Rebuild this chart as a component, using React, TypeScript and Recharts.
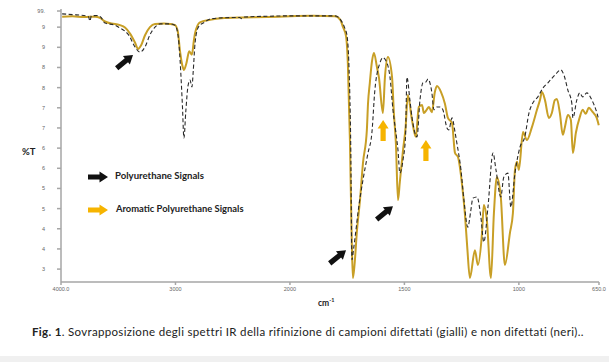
import React from 'react'
import { LineChart, Line, XAxis, YAxis, ReferenceDot } from 'recharts'

// IR spectra: wavenumber (cm-1) and %T
const goldWn = [
  3990, 3900, 3800, 3700, 3660, 3616, 3560, 3528, 3485, 3441, 3397, 3354, 3327, 3300, 3266, 3223, 3179, 3100,
  3048, 3004, 2980, 2960, 2940, 2926, 2905, 2880, 2866, 2856, 2840, 2829, 2786, 2698, 2600, 2400, 2200, 2000,
  1900, 1803, 1780, 1768, 1755, 1747, 1738, 1730, 1725, 1718, 1707, 1694, 1681, 1664, 1659, 1651, 1642, 1633,
  1620, 1611, 1594, 1585, 1572, 1554, 1546, 1537, 1528, 1520, 1506, 1495, 1485, 1467, 1450, 1437, 1423, 1415,
  1403, 1393, 1380, 1367, 1358, 1340, 1323, 1310, 1292, 1279, 1266, 1249, 1236, 1225, 1214, 1192, 1179, 1161,
  1153, 1140, 1122, 1109, 1096, 1079, 1061, 1039, 1026, 1017, 1008, 1000, 982, 965, 943, 921, 908, 899, 886,
  869, 856, 843, 834, 821, 808, 799, 786, 773, 764, 751, 734, 721, 708, 695, 677, 660, 651
]
const goldT = [
  97.6, 97.7, 97.5, 97.6, 97.3, 96.4, 95.9, 95.8, 95.5, 94.9, 93.4, 91.2, 89.6, 90.5, 93.0, 95.0, 95.8, 95.9,
  95.8, 95.5, 94.0, 89.0, 85.5, 84.4, 86.0, 89.0, 88.5, 88.2, 91.5, 93.5, 96.2, 96.8, 97.2, 97.4, 97.5, 97.7,
  97.8, 97.7, 96.8, 95.0, 92.8, 86.0, 67.0, 42.0, 32.8, 36.0, 44.7, 52.1, 61.3, 69.5, 76.0, 81.2, 86.4, 88.6,
  85.1, 82.4, 73.7, 82.6, 87.6, 82.6, 73.7, 66.0, 52.1, 56.6, 64.5, 70.0, 78.2, 72.0, 67.8, 75.2, 75.7, 73.7,
  74.5, 75.2, 73.9, 78.9, 80.4, 78.9, 76.0, 72.5, 71.2, 63.8, 62.8, 56.4, 48.9, 40.0, 32.8, 39.7, 36.0, 44.0,
  50.9, 47.2, 32.8, 48.9, 57.8, 52.9, 36.0, 44.0, 48.9, 59.6, 61.6, 59.6, 69.0, 67.0, 70.2, 74.5, 76.9, 78.9, 76.9,
  72.5, 73.7, 76.9, 77.2, 73.7, 68.3, 70.2, 73.2, 72.0, 63.8, 68.8, 72.7, 74.5, 73.5, 75.0, 73.9, 72.5, 70.7
]

const blackWn = [
  3990, 3900, 3800, 3760, 3747, 3735, 3680, 3650, 3616, 3528, 3485, 3441, 3410, 3354, 3310, 3266, 3223, 3179,
  3135, 3050, 3004, 2978, 2960, 2940, 2926, 2910, 2890, 2873, 2856, 2845, 2829, 2800, 2742, 2698, 2600, 2440,
  2420, 2400, 2200, 2000, 1900, 1803, 1775, 1762, 1751, 1742, 1735, 1729, 1722, 1712, 1703, 1681, 1659, 1642,
  1629, 1607, 1594, 1576, 1563, 1550, 1533, 1528, 1520, 1506, 1495, 1489, 1476, 1467, 1445, 1432, 1419, 1406,
  1397, 1380, 1371, 1358, 1345, 1332, 1314, 1306, 1292, 1279, 1271, 1253, 1240, 1223, 1210, 1201, 1183, 1166,
  1153, 1135, 1113, 1100, 1079, 1066, 1048, 1035, 1017, 995, 974, 956, 939, 917, 895, 873, 843, 817, 803, 786,
  769, 764, 747, 734, 721, 703, 681, 660, 651
]
const blackT = [
  98.3, 98.1, 97.9, 97.6, 96.5, 97.8, 97.9, 97.4, 96.0, 95.5, 94.8, 94.0, 93.1, 90.1, 88.8, 90.1, 93.1, 95.0,
  95.8, 95.8, 95.5, 93.1, 86.9, 76.0, 67.5, 74.0, 80.5, 81.9, 80.2, 84.0, 91.0, 95.0, 96.3, 97.0, 97.3, 97.4,
  97.1, 97.5, 97.7, 97.8, 97.8, 97.8, 96.5, 95.0, 93.0, 85.0, 68.0, 37.3, 40.0, 44.5, 48.9, 57.1, 63.8, 68.8,
  79.4, 86.1, 87.4, 86.1, 82.6, 74.5, 67.0, 64.5, 58.8, 62.1, 68.0, 82.6, 76.9, 72.7, 67.8, 76.9, 81.2, 81.4,
  82.1, 78.7, 74.5, 75.2, 75.2, 74.5, 70.0, 69.5, 72.5, 69.0, 66.3, 59.6, 52.1, 45.4, 49.5, 52.6, 52.9, 47.9,
  41.7, 50.4, 63.8, 59.6, 52.9, 57.8, 58.8, 50.4, 58.8, 65.3, 67.8, 73.7, 76.2, 77.7, 79.9, 81.2, 83.1, 84.4, 83.1, 79.4,
  76.2, 72.5, 76.9, 78.7, 77.7, 78.7, 76.9, 73.9, 72.0
]

const xTickWn = [4000, 3000, 2000, 1500, 1000, 650]
const xTickLabels = ['4000.0', '3000', '2000', '1500', '1000', '650.0']
const yTicks = [35, 40, 45, 50, 55, 60, 65, 70, 75, 80, 85, 90, 95, 99]
const yTickLabels = ['3', '4', '4', '5', '5', '6', '6', '7', '7', '8', '8', '9', '9', '99.']

// black arrows (polyurethane) and yellow arrows (aromatic), tip position
const blackArrowWn = [3371, 1755, 1550]
const blackArrowT = [88.1, 39.7, 50.6]
const yellowArrowWn = [1593, 1406]
const yellowArrowT = [72.0, 67.0]

const GOLD = '#C89F26'
const YELLOW = '#F6B400'

// the instrument expands the scale 2x below 2000 cm-1
const toPos = (wn: number) => (wn >= 2000 ? (4000 - wn) / 2 : 1000 + (2000 - wn))

const goldData = goldWn.map((w, i) => ({ pos: toPos(w), t: goldT[i] }))
const blackData = blackWn.map((w, i) => ({ pos: toPos(w), t: blackT[i] }))

function arrowPath(len: number) {
  return `M0 0 L-8.5 -5.5 L-8.5 -2.6 L-${len} -2.6 L-${len} 2.6 L-8.5 2.6 L-8.5 5.5 Z`
}

const arrowShape = (color: string, angle: number, len: number) => (props: any) => (
  <g transform={`translate(${props.cx},${props.cy}) rotate(${angle})`}>
    <path d={arrowPath(len)} fill={color} />
  </g>
)

const labelFont = '"Lato", "Liberation Sans", sans-serif'

export default function App() {
  return (
    <div style={{ position: 'absolute', left: 0, top: 0, width: 609, height: 362, background: '#fff', fontFamily: labelFont }}>
      <LineChart
        width={609}
        height={300}
        margin={{ top: 9, right: 10, left: 21, bottom: 0 }}
        style={{ position: 'absolute', left: 0, top: 0 }}
      >
        <XAxis
          type="number"
          dataKey="pos"
          domain={[0, 2350]}
          ticks={xTickWn.map(toPos)}
          tickFormatter={(v: number) => xTickLabels[xTickWn.map(toPos).indexOf(v)]}
          height={18}
          stroke="#a6a6a6"
          strokeWidth={1.5}
          tickSize={3}
          tickMargin={2}
          tick={{ fontSize: 5.5, fill: '#666', fontFamily: 'Liberation Sans' }}
          allowDuplicatedCategory={false}
        />
        <YAxis
          type="number"
          domain={[31.8, 99.5]}
          ticks={yTicks}
          tickFormatter={(v: number) => yTickLabels[yTicks.indexOf(v)]}
          width={40}
          stroke="#a6a6a6"
          strokeWidth={1.5}
          tickSize={4}
          tickMargin={12}
          tick={{ fontSize: 5.5, fill: '#666', fontFamily: 'Liberation Sans' }}
        />
        <Line
          data={goldData}
          dataKey="t"
          type="monotone"
          stroke={GOLD}
          strokeWidth={2}
          dot={false}
          isAnimationActive={false}
        />
        <Line
          data={blackData}
          dataKey="t"
          type="monotone"
          stroke="#2a2a2a"
          strokeWidth={1.1}
          strokeDasharray="4 2.5"
          dot={false}
          isAnimationActive={false}
        />
        {blackArrowWn.map((w, i) => (
          <ReferenceDot
            key={'b' + i}
            x={toPos(w)}
            y={blackArrowT[i]}
            r={1}
            shape={arrowShape('#111', -39, 21)}
          />
        ))}
        {yellowArrowWn.map((w, i) => (
          <ReferenceDot
            key={'y' + i}
            x={toPos(w)}
            y={yellowArrowT[i]}
            r={1}
            shape={arrowShape(YELLOW, -90, 21)}
          />
        ))}
      </LineChart>

      {/* legend */}
      <svg width={30} height={50} style={{ position: 'absolute', left: 84, top: 168 }}>
        <g transform="translate(24,9)">
          <path d={arrowPath(20)} fill="#111" />
        </g>
        <g transform="translate(24,42)">
          <path d={arrowPath(20)} fill={YELLOW} />
        </g>
      </svg>
      <div style={{ position: 'absolute', left: 115, top: 170, fontSize: 9.6, fontWeight: 700, color: '#222' }}>
        Polyurethane Signals
      </div>
      <div style={{ position: 'absolute', left: 116, top: 203, fontSize: 9.4, fontWeight: 700, color: '#222' }}>
        Aromatic Polyurethane Signals
      </div>

      <div style={{ position: 'absolute', left: 22, top: 146, fontSize: 9.5, fontWeight: 700, color: '#222' }}>%T</div>
      <div style={{ position: 'absolute', left: 318, top: 297, fontSize: 8.5, fontWeight: 700, color: '#222' }}>
        cm<sup style={{ fontSize: 5.5 }}>-1</sup>
      </div>

      <div
        style={{
          position: 'absolute',
          left: 32,
          top: 325,
          fontSize: 11.5,
          letterSpacing: 0.33,
          color: '#222',
          whiteSpace: 'nowrap'
        }}
      >
        <b>Fig. 1</b>. Sovrapposizione degli spettri IR della rifinizione di campioni difettati (gialli) e non difettati (neri)..
      </div>
      <div style={{ position: 'absolute', left: 0, top: 356, width: 609, height: 6, background: '#f0f0f0' }} />
    </div>
  )
}
